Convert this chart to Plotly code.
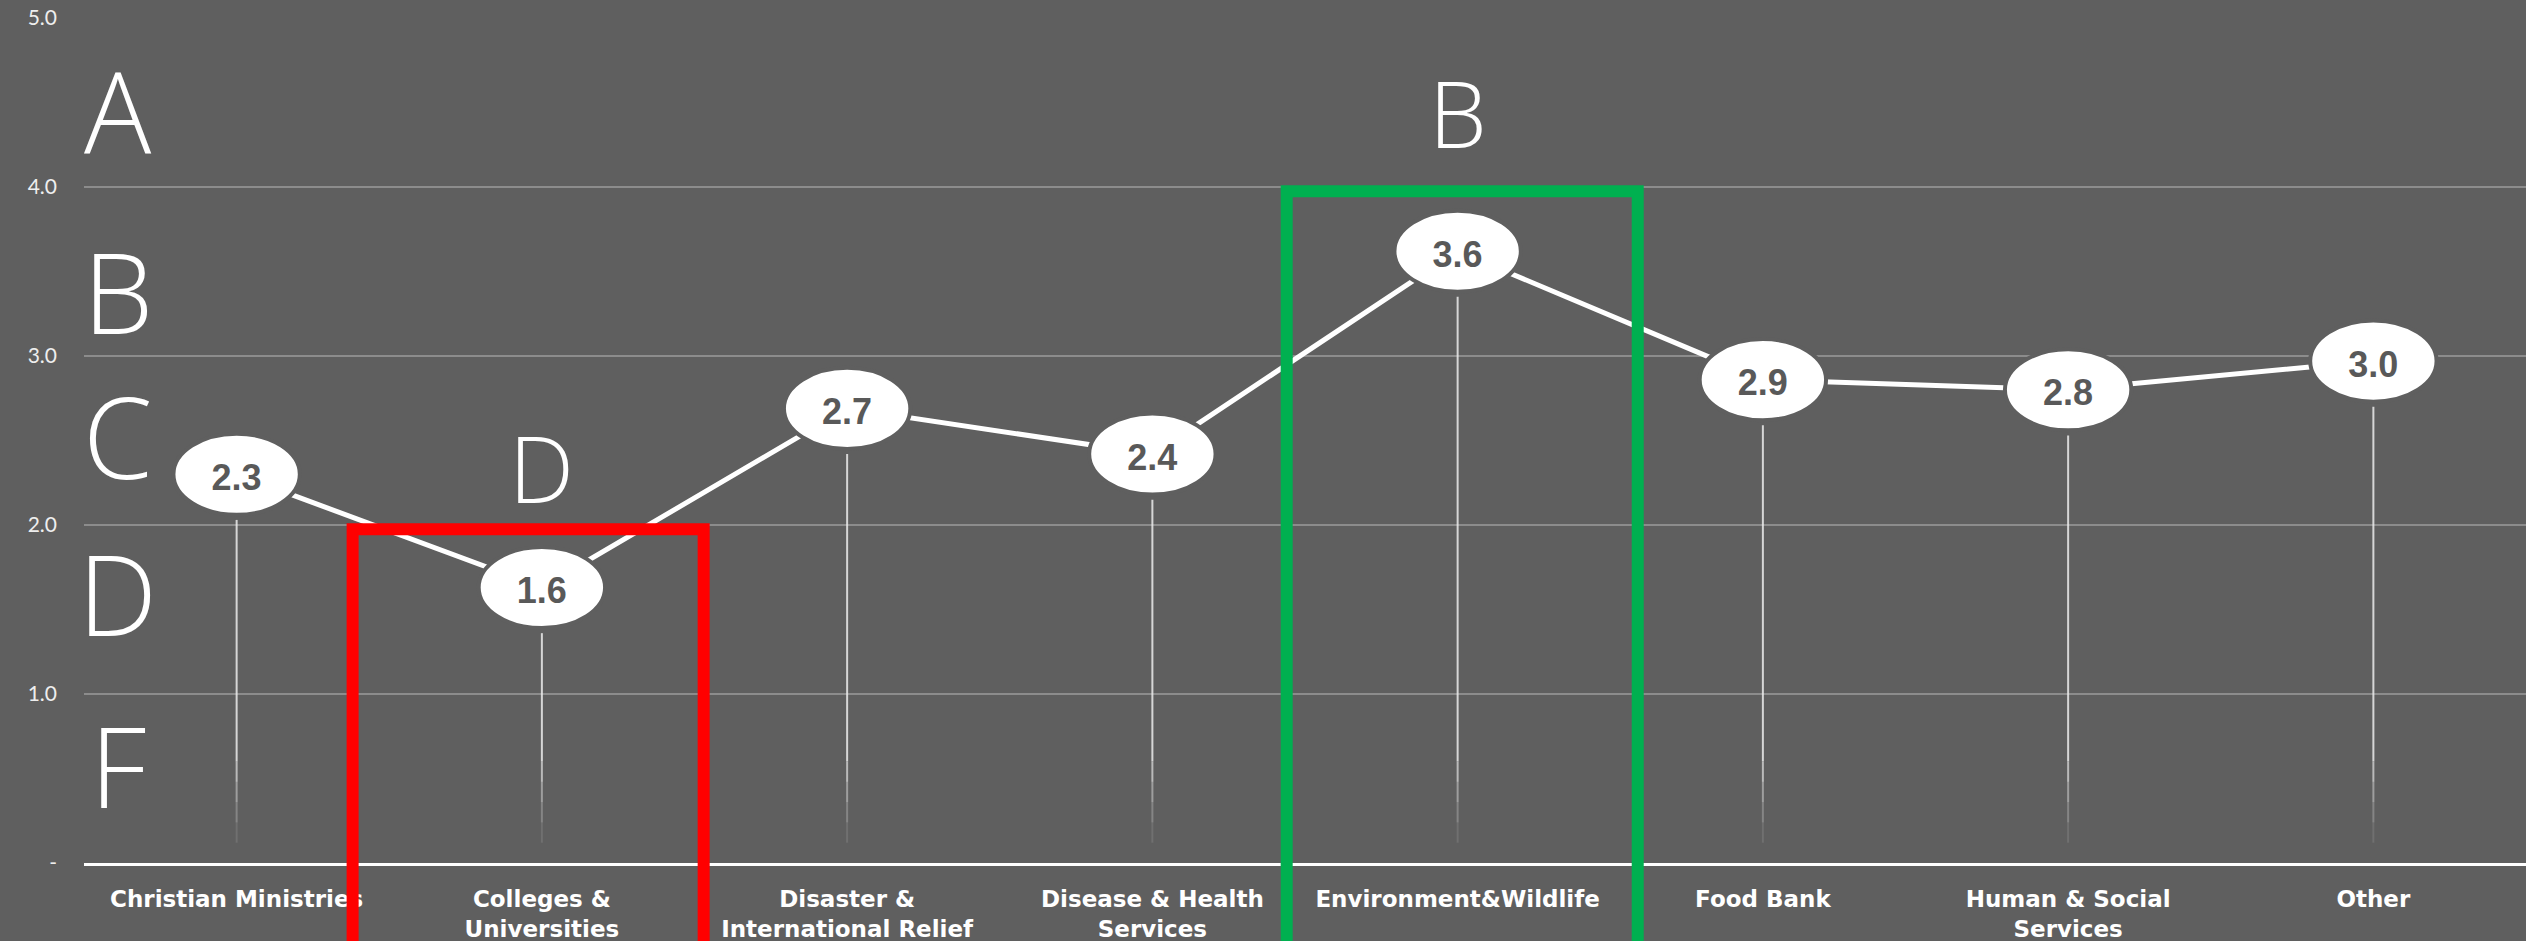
import plotly.graph_objects as go

# ---------------- data ----------------
categories = [
    "Christian Ministries",
    "Colleges &<br>Universities",
    "Disaster &<br>International Relief",
    "Disease & Health<br>Services",
    "Environment&Wildlife",
    "Food Bank",
    "Human & Social<br>Services",
    "Other",
]
scores = [2.30, 1.63, 2.69, 2.42, 3.62, 2.86, 2.80, 2.97]

y_tick_vals = [0, 1, 2, 3, 4, 5]
y_tick_text = ["-", "1.0", "2.0", "3.0", "4.0", "5.0"]

grade_letters = ["A", "B", "C", "D", "F"]
grade_levels = [4.46, 3.39, 2.53, 1.60, 0.58]

highlight_index = [1, 4]
highlight_grade = ["D", "B"]
highlight_top = [2.0, 4.0]
highlight_label_level = [2.34, 4.44]
highlight_color = ["#FF0000", "#00B050"]
highlight_left = [0.62, 0.56]
highlight_right = [0.53, 0.59]

# ---------------- style ----------------
BG = "#5f5f5f"
Y_MAX = 5.0
x_idx = list(range(len(categories)))

fig = go.Figure()

# drop lines (with fading lower part)
fade_steps = [(None, 0.6, 0.85), (0.6, 0.48, 0.65), (0.48, 0.36, 0.45),
              (0.36, 0.24, 0.28), (0.24, 0.12, 0.12)]
for top, bottom, alpha in fade_steps:
    xs, ys = [], []
    for i, v in zip(x_idx, scores):
        t = v - 0.27 if top is None else top
        xs += [i, i, None]
        ys += [t, bottom, None]
    fig.add_trace(go.Scatter(
        x=xs, y=ys, mode="lines",
        line=dict(color=f"rgba(235,235,235,{alpha})", width=2),
        hoverinfo="skip", showlegend=False,
    ))

# connecting line
fig.add_trace(go.Scatter(
    x=x_idx, y=scores, mode="lines",
    line=dict(color="white", width=5),
    showlegend=False, hoverinfo="skip",
))

shapes = []
# ellipse markers with value labels
for i, v in zip(x_idx, scores):
    shapes.append(dict(
        type="circle", xref="x", yref="y",
        x0=i - 0.207, x1=i + 0.207, y0=v - 0.24, y1=v + 0.24,
        fillcolor="white", line=dict(color=BG, width=4), layer="above",
        label=dict(text=f"{v:.1f}",
                   font=dict(family="Liberation Sans", size=36, color="#595959", weight="bold"),
                   textposition="middle center"),
    ))

# highlight boxes
for idx, top, col, lo, hi in zip(highlight_index, highlight_top, highlight_color,
                                 highlight_left, highlight_right):
    shapes.append(dict(
        type="rect", xref="x", yref="paper",
        x0=idx - lo, x1=idx + hi, y0=-0.3, y1=top / Y_MAX - 0.005,
        line=dict(color=col, width=12), fillcolor="rgba(0,0,0,0)", layer="above",
    ))

annotations = []
for letter, lvl in zip(grade_letters, grade_levels):
    annotations.append(dict(
        x=-0.39, y=lvl, xref="x", yref="y", text=letter, showarrow=False,
        font=dict(family="Open Sans", size=112, color="white", weight=300),
        xanchor="center", yanchor="middle",
    ))
for idx, g, lvl in zip(highlight_index, highlight_grade, highlight_label_level):
    annotations.append(dict(
        x=idx, y=lvl, xref="x", yref="y", text=g, showarrow=False,
        font=dict(family="Open Sans", size=92, color="white", weight=300),
        xanchor="center", yanchor="middle",
    ))

fig.update_layout(
    width=2526, height=941,
    margin=dict(l=84, r=0, t=18, b=78),
    paper_bgcolor=BG, plot_bgcolor=BG,
    shapes=shapes, annotations=annotations,
    showlegend=False,
    xaxis=dict(
        range=[-0.5, 7.5], tickvals=x_idx, ticktext=categories,
        showgrid=False, zeroline=False,
        showline=True, linecolor="white", linewidth=3,
        ticks="", ticklabelstandoff=13,
        tickfont=dict(family="DejaVu Sans", size=23, color="white", weight="bold"),
    ),
    yaxis=dict(
        range=[0, Y_MAX], tickvals=y_tick_vals, ticktext=y_tick_text,
        showgrid=True, gridcolor="#8c8c8c", gridwidth=1.5,
        zeroline=False, showline=False, ticks="", ticklabelstandoff=26,
        tickfont=dict(family="Lato", size=21, color="#eeeeee"),
    ),
)

fig.write_html("out.html")
